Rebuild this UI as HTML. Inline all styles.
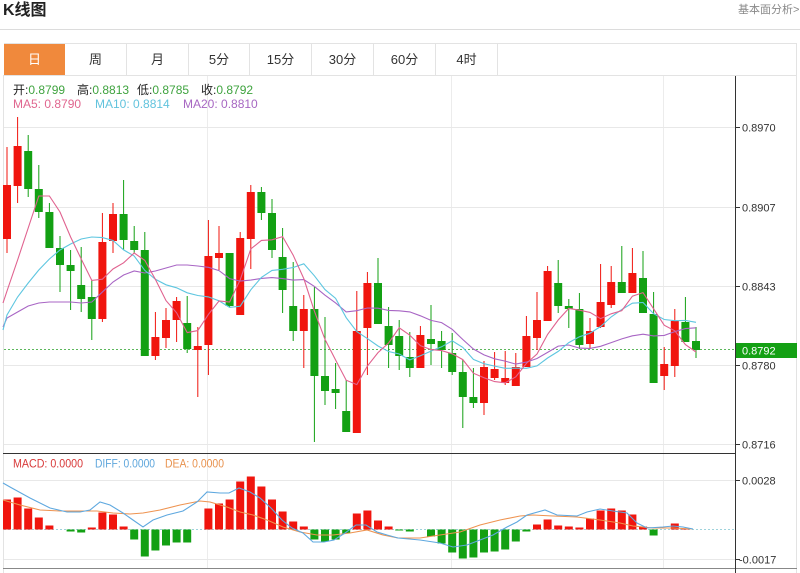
<!DOCTYPE html>
<html><head><meta charset="utf-8">
<style>
html,body{margin:0;padding:0;}
body{width:800px;height:573px;overflow:hidden;background:#fff;position:relative;font-family:"Liberation Sans","Noto Sans CJK SC",sans-serif;}
.title{position:absolute;left:3px;top:1px;font-size:16px;font-weight:bold;color:#222;line-height:20px;}
.more{position:absolute;left:738px;top:4px;font-size:11px;color:#888;line-height:13px;white-space:nowrap;}
.hr{position:absolute;left:0;top:29px;width:800px;height:1px;background:#dcdcdc;}
.tabs{position:absolute;left:4px;top:43px;width:793px;height:32px;border-top:1px solid #e3e3e3;border-right:1px solid #e3e3e3;box-sizing:border-box;}
.tab{position:absolute;top:0;height:31px;border-right:1px solid #e3e3e3;box-sizing:border-box;text-align:center;line-height:31px;font-size:13px;color:#333;}
.tab.on{background:#f0893c;color:#fff;border-right:none;}
.lg{position:absolute;font-size:12px;line-height:14px;white-space:nowrap;}
svg{position:absolute;left:0;top:0;}
</style></head>
<body>
<div class="title">K线图</div>
<div class="more">基本面分析&gt;</div>
<div class="hr"></div>
<div class="tabs">
  <div class="tab on" style="left:0;width:61px">日</div>
  <div class="tab" style="left:61px;width:62px">周</div>
  <div class="tab" style="left:123px;width:62px">月</div>
  <div class="tab" style="left:185px;width:61px">5分</div>
  <div class="tab" style="left:246px;width:62px">15分</div>
  <div class="tab" style="left:308px;width:62px">30分</div>
  <div class="tab" style="left:370px;width:62px">60分</div>
  <div class="tab" style="left:432px;width:62px">4时</div>
</div>

<svg id="c" width="800" height="573" viewBox="0 0 800 573" xmlns="http://www.w3.org/2000/svg">
  <g id="grid" shape-rendering="crispEdges">
    <line x1="3.5" y1="75" x2="3.5" y2="573" stroke="#e3e3e3"/>
    <line x1="796.5" y1="43" x2="796.5" y2="573" stroke="#e3e3e3"/>
    <line x1="3" y1="75.5" x2="797" y2="75.5" stroke="#e3e3e3"/>
    <line x1="207.5" y1="76" x2="207.5" y2="568" stroke="#ececec"/>
    <line x1="451.5" y1="76" x2="451.5" y2="568" stroke="#ececec"/>
    <line x1="663.5" y1="76" x2="663.5" y2="568" stroke="#ececec"/>
    <line x1="4" y1="127.5" x2="735" y2="127.5" stroke="#e8e8e8"/>
    <line x1="4" y1="207.5" x2="735" y2="207.5" stroke="#e8e8e8"/>
    <line x1="4" y1="286.5" x2="735" y2="286.5" stroke="#e8e8e8"/>
    <line x1="4" y1="365.5" x2="735" y2="365.5" stroke="#e8e8e8"/>
    <line x1="4" y1="444.5" x2="735" y2="444.5" stroke="#e8e8e8"/>
    <line x1="4" y1="480.5" x2="735" y2="480.5" stroke="#e8e8e8"/>
    <line x1="4" y1="559.5" x2="735" y2="559.5" stroke="#e8e8e8"/>
    <line x1="3" y1="453.5" x2="735" y2="453.5" stroke="#333"/>
    <line x1="3" y1="568.5" x2="797" y2="568.5" stroke="#888"/>
    <line x1="735.5" y1="76" x2="735.5" y2="573" stroke="#333"/>
    <line x1="735" y1="127.5" x2="740" y2="127.5" stroke="#333"/>
    <line x1="735" y1="207.5" x2="740" y2="207.5" stroke="#333"/>
    <line x1="735" y1="286.5" x2="740" y2="286.5" stroke="#333"/>
    <line x1="735" y1="365.5" x2="740" y2="365.5" stroke="#333"/>
    <line x1="735" y1="444.5" x2="740" y2="444.5" stroke="#333"/>
    <line x1="735" y1="480.5" x2="740" y2="480.5" stroke="#333"/>
    <line x1="735" y1="559.5" x2="740" y2="559.5" stroke="#333"/>
    <line x1="4" y1="349.5" x2="735" y2="349.5" stroke="#5cb85c" stroke-dasharray="2,2"/>
    <line x1="4" y1="529.5" x2="735" y2="529.5" stroke="#9fd3dc" stroke-dasharray="2,2"/>
  </g>
  <g id="cand"></g>
  <g id="macd"></g>
  <rect x="736" y="343" width="61" height="15" fill="#14a014"/>
  <g font-family="Liberation Sans, sans-serif" font-size="11" fill="#333">
    <text x="742" y="131.5">0.8970</text>
    <text x="742" y="211.5">0.8907</text>
    <text x="742" y="290.5">0.8843</text>
    <text x="742" y="369.5">0.8780</text>
    <text x="742" y="448.5">0.8716</text>
    <text x="742" y="354.5" fill="#fff">0.8792</text>
    <text x="742" y="484.5">0.0028</text>
    <text x="739" y="563.5">-0.0017</text>
  </g>
  <g font-family="Liberation Sans, sans-serif" font-size="12">
    <text x="13" y="467.5" fill="#d83a3a" textLength="70" lengthAdjust="spacingAndGlyphs">MACD: 0.0000</text>
    <text x="95" y="467.5" fill="#5ea6dc" textLength="60" lengthAdjust="spacingAndGlyphs">DIFF: 0.0000</text>
    <text x="165" y="467.5" fill="#e8924e" textLength="59" lengthAdjust="spacingAndGlyphs">DEA: 0.0000</text>
  </g>
</svg>

<div class="lg" style="left:13px;top:83px;color:#222">开:<span style="color:#3fa33f">0.8799</span></div>
<div class="lg" style="left:77px;top:83px;color:#222">高:<span style="color:#3fa33f">0.8813</span></div>
<div class="lg" style="left:137px;top:83px;color:#222">低:<span style="color:#3fa33f">0.8785</span></div>
<div class="lg" style="left:201px;top:83px;color:#222">收:<span style="color:#3fa33f">0.8792</span></div>
<div class="lg" style="left:13px;top:97px;color:#e0668f">MA5: 0.8790</div>
<div class="lg" style="left:95px;top:97px;color:#62c3dd">MA10: 0.8814</div>
<div class="lg" style="left:183px;top:97px;color:#a767c2">MA20: 0.8810</div>

<script>
(function(){
var X=function(i){return 7+10.6*i;};
var RED="#f0150e",GRN="#13a013";
var K=[
[185,239,147,253,1],[146,186,117,203,1],[151,189,135,197,0],[189,212,165,218,0],[212,248,203,248,0],
[248,265,236,292,0],[265,271,250,310,0],[285,299,247,312,0],[297,319,280,340,0],[242,319,213,322,1],
[214,241,203,253,1],[214,240,180,250,0],[241,250,226,253,0],[250,356,232,356,0],[337,356,312,360,1],
[320,338,308,348,1],[301,320,297,342,1],[323,349,296,353,0],[346,350,327,397,1],[256,345,220,375,1],
[253,258,226,270,1],[253,306,253,307,0],[238,315,232,315,1],[192,239,185,269,1],[192,213,187,220,0],
[213,250,199,258,0],[257,290,228,313,0],[306,331,262,341,0],[309,331,295,368,1],[309,376,287,442,0],
[376,391,317,405,0],[389,393,363,409,0],[411,432,380,432,0],[331,433,291,433,1],[283,328,272,375,1],
[283,324,258,324,0],[326,345,307,368,0],[336,356,320,370,0],[357,368,332,377,0],[335,368,326,368,1],
[339,344,305,365,0],[341,350,331,368,0],[353,372,333,375,0],[372,397,360,428,0],[397,403,368,408,0],
[367,403,361,415,1],[369,378,352,380,1],[378,383,351,385,1],[367,386,353,386,1],[336,367,316,367,1],
[320,338,292,350,1],[271,321,266,321,1],[283,306,260,313,0],[306,309,299,328,0],[309,345,293,349,0],
[331,344,318,348,1],[302,327,264,328,1],[282,305,266,308,1],[282,293,246,293,0],[273,293,248,293,1],
[278,313,251,313,0],[314,383,292,383,0],[364,376,347,390,1],[321,366,309,377,1],[322,342,297,342,0],
[341,350,327,358,0]];
var s="";
var C=[];
for(var i=0;i<K.length;i++){
  var k=K[i],x=X(i),col=k[4]?RED:GRN;
  C.push(k[4]?k[0]:k[1]);
  s+='<line x1="'+x.toFixed(1)+'" y1="'+k[2]+'" x2="'+x.toFixed(1)+'" y2="'+k[3]+'" stroke="'+col+'" stroke-width="1"/>';
  var h=Math.max(k[1]-k[0],1.5);
  s+='<rect x="'+(x-4).toFixed(1)+'" y="'+k[0]+'" width="8" height="'+h+'" fill="'+col+'"/>';
}
function ma(n,pre,start){
  var pts=[[3,start]];
  for(var i=0;i<C.length;i++){
    var v;
    if(i<n-1){v=pre[i];}
    else{var t=0;for(var j=i-n+1;j<=i;j++)t+=C[j];v=t/n;}
    pts.push([X(i),v]);
  }
  return pts.map(function(p){return p[0].toFixed(1)+","+p[1].toFixed(1);}).join(" ");
}
var m20=ma(20,[318,312,306,303,302,302,302,303,302,292,282,275,271,273,271,268,265,265,266],327);
var m10=ma(10,[315,297,283,270,259,250,244,239,237],330);
var m5=ma(5,[291,260,228,196],303);
s+='<polyline points="'+m20+'" fill="none" stroke="#a865c4" stroke-width="1.1"/>';
s+='<polyline points="'+m10+'" fill="none" stroke="#5ec6e0" stroke-width="1.1"/>';
s+='<polyline points="'+m5+'" fill="none" stroke="#e0628f" stroke-width="1.1"/>';
document.getElementById("cand").innerHTML=s;

var M=[30,32,21,12,4,0,-2,-3,2,17,15,3,-10,-27,-21,-16,-13,-13,0,21,26,30,48,53,43,30,18,8,3,-10,-12,-10,-4,16,19,9,3,-1,-2,0,-7,-14,-23,-29,-28,-23,-22,-20,-12,-2,5,10,4,3,2,11,19,21,19,15,3,-6,0,6,1,0];
var z=529.5,m="";
for(var i=0;i<M.length;i++){
  var v=M[i];if(v===0)continue;
  var x=X(i);
  if(v>0)m+='<rect x="'+(x-4).toFixed(1)+'" y="'+(z-v)+'" width="8" height="'+v+'" fill="'+RED+'"/>';
  else m+='<rect x="'+(x-4).toFixed(1)+'" y="'+z+'" width="8" height="'+(-v)+'" fill="'+GRN+'"/>';
}
var diff=[[3,483],[10,487],[30,498],[50,508],[67,512],[80,512],[90,510],[100,502],[110,505],[123,513],[133,520],[143,527],[153,520],[167,515],[183,511],[197,502],[207,492],[220,493],[229,493],[239,488],[250,492],[260,498],[271,508],[282,520],[292,528],[303,533],[313,542],[324,542],[334,540],[345,533],[356,525],[366,525],[377,532],[387,535],[398,538],[420,540],[440,543],[453,547],[467,545],[480,540],[493,535],[507,527],[517,522],[527,515],[545,510],[557,515],[577,516],[587,512],[600,509],[613,511],[627,513],[637,523],[647,528],[663,527],[673,526],[683,527],[693,529]];
var dea=[[3,500],[20,505],[40,510],[60,511],[80,511],[97,511],[113,513],[130,514],[143,513],[160,510],[180,505],[200,501],[210,502],[227,507],[240,512],[253,515],[267,520],[283,527],[300,532],[317,535],[333,535],[350,533],[367,530],[383,535],[398,538],[420,538],[440,535],[460,532],[480,525],[500,520],[520,516],[533,515],[553,516],[577,517],[600,520],[620,523],[633,526],[653,528],[673,528],[693,529]];
function pl(a){return a.map(function(p){return p[0]+","+p[1];}).join(" ");}
m+='<polyline points="'+pl(dea)+'" fill="none" stroke="#ee9350" stroke-width="1.1"/>';
m+='<polyline points="'+pl(diff)+'" fill="none" stroke="#5ea8df" stroke-width="1.1"/>';
document.getElementById("macd").innerHTML=m;
})();
</script>
</body></html>
